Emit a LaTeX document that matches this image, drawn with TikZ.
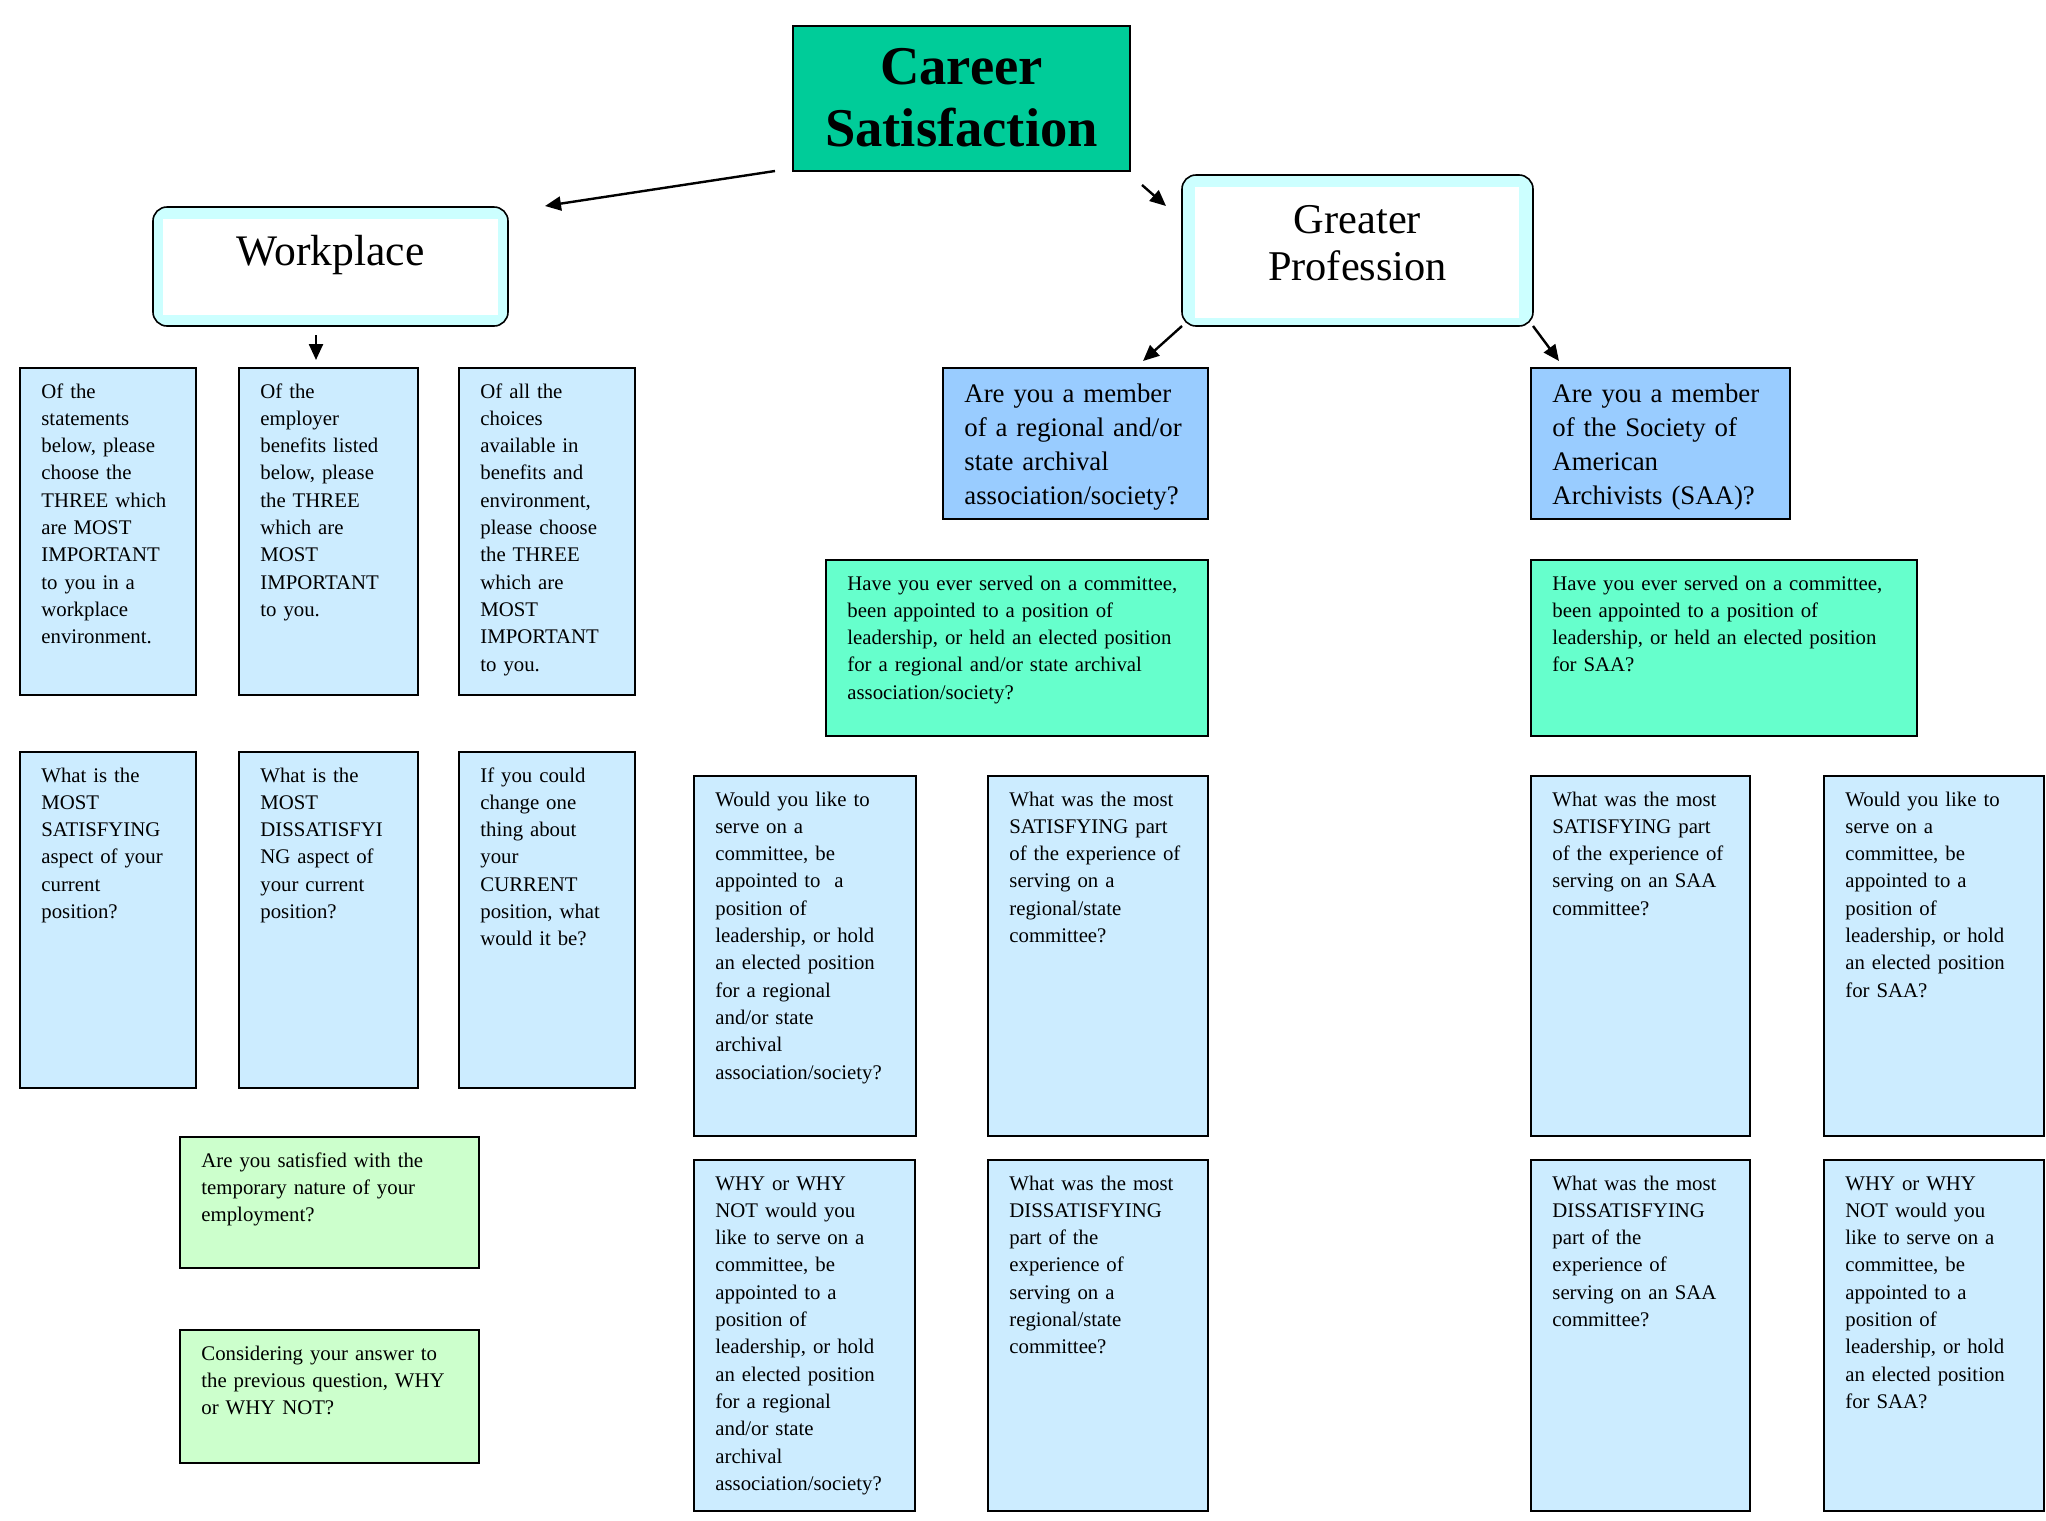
\documentclass[tikz,border=0pt]{standalone}
\usepackage{fontspec}
\setmainfont{Liberation Serif}
\usetikzlibrary{arrows.meta,calc}
\definecolor{titlegreen}{RGB}{0,204,153}
\definecolor{bandcyan}{RGB}{204,255,255}
\definecolor{qblue}{RGB}{204,236,255}
\definecolor{mblue}{RGB}{153,204,255}
\definecolor{tgreen}{RGB}{102,255,204}
\definecolor{lgreen}{RGB}{204,255,204}
\tikzset{
  qframe/.style={draw=black, line width=1pt, anchor=north west, inner sep=0pt, outer sep=0pt},
  qtext/.style={anchor=base west, inner sep=0pt, text width=400pt, align=left, font=\fontsize{10.4}{13.65}\selectfont},
  mtext/.style={anchor=base west, inner sep=0pt, text width=400pt, align=left, font=\fontsize{13.4}{17}\selectfont},
  rframe/.style={draw=black, line width=0.8pt, fill=bandcyan, rounded corners=7pt, anchor=north west, inner sep=0pt, outer sep=0pt},
  conn/.style={line width=1.2pt, -{Triangle[length=8pt,width=7pt]}},
}
\newcommand\qbox[7]{%
  \node[qframe,fill=#2,minimum width={(#5-#3)*0.5pt},minimum height={(#6-#4)*0.5pt}] (#1) at (#3,#4) {};
  \node[qtext] (#1-t) at ($(#1.north west)+(21,30)$) {#7};}
\begin{document}
\begin{tikzpicture}[x=0.5pt,y=-0.5pt]
\useasboundingbox (0,0) rectangle (2046,1521);
% title
\node[qframe,fill=titlegreen,minimum width={337*0.5pt},minimum height={145*0.5pt}] (title) at (793,26) {};
\node[font=\bfseries\fontsize{27.3}{31}\selectfont, align=center, inner sep=0pt] (title-t) at ($(title.center)+(0,-1)$) {Career\\Satisfaction};
% workplace
\node[rframe,minimum width={355*0.5pt},minimum height={119*0.5pt}] (wp) at (153,207) {};
\fill[white] ($(wp.north west)+(10,12)$) rectangle ($(wp.south east)+(-10,-11)$);
\node[font=\fontsize{21.8}{24}\selectfont, anchor=base, inner sep=0pt] (wp-t) at ($(wp.north)+(0,58)$) {Workplace};
% greater profession
\node[rframe,minimum width={351*0.5pt},minimum height={151*0.5pt}] (gp) at (1182,175) {};
\fill[white] ($(gp.north west)+(13,12)$) rectangle ($(gp.south east)+(-14,-8)$);
\node[font=\fontsize{21.2}{23.5}\selectfont, align=center, inner sep=0pt] (gp-t) at ($(gp.center)+(0,-7)$) {Greater\\Profession};
% left column boxes
\qbox{b1}{qblue}{20}{368}{196}{695}{Of the\\statements\\below, please\\choose the\\THREE which\\are MOST\\IMPORTANT\\to you in a\\workplace\\environment.}
\qbox{b2}{qblue}{239}{368}{418}{695}{Of the\\employer\\benefits listed\\below, please\\the THREE\\which are\\MOST\\IMPORTANT\\to you.}
\qbox{b3}{qblue}{459}{368}{635}{695}{Of all the\\choices\\available in\\benefits and\\environment,\\please choose\\the THREE\\which are\\MOST\\IMPORTANT\\to you.}
\qbox{b4}{qblue}{20}{752}{196}{1088}{What is the\\MOST\\SATISFYING\\aspect of your\\current\\position?}
\qbox{b5}{qblue}{239}{752}{418}{1088}{What is the\\MOST\\DISSATISFYI\\NG aspect of\\your current\\position?}
\qbox{b6}{qblue}{459}{752}{635}{1088}{If you could\\change one\\thing about\\your\\CURRENT\\position, what\\would it be?}
\qbox{g1}{lgreen}{180}{1137}{479}{1268}{Are you satisfied with the\\temporary nature of your\\employment?}
\qbox{g2}{lgreen}{180}{1330}{479}{1463}{Considering your answer to\\the previous question, WHY\\or WHY NOT?}
% member boxes
\node[qframe,fill=mblue,minimum width={265*0.5pt},minimum height={151*0.5pt}] (reg) at (943,368) {};
\node[mtext] (reg-t) at ($(reg.north west)+(21,34)$) {Are you a member\\of a regional and/or\\state archival\\association/society?};
\node[qframe,fill=mblue,minimum width={259*0.5pt},minimum height={151*0.5pt}] (saa) at (1531,368) {};
\node[mtext] (saa-t) at ($(saa.north west)+(21,34)$) {Are you a member\\of the Society of\\American\\Archivists (SAA)?};
% served boxes
\qbox{t1}{tgreen}{826}{560}{1208}{736}{Have you ever served on a committee,\\been appointed to a position of\\leadership, or held an elected position\\for a regional and/or state archival\\association/society?}
\qbox{t2}{tgreen}{1531}{560}{1917}{736}{Have you ever served on a committee,\\been appointed to a position of\\leadership, or held an elected position\\for SAA?}
% regional detail boxes
\qbox{m1}{qblue}{694}{776}{916}{1136}{Would you like to\\serve on a\\committee, be\\appointed to~ a\\position of\\leadership, or hold\\an elected position\\for a regional\\and/or state\\archival\\association/society?}
\qbox{m2}{qblue}{988}{776}{1208}{1136}{What was the most\\SATISFYING part\\of the experience of\\serving on a\\regional/state\\committee?}
\qbox{m3}{qblue}{694}{1160}{915}{1511}{WHY or WHY\\NOT would you\\like to serve on a\\committee, be\\appointed to a\\position of\\leadership, or hold\\an elected position\\for a regional\\and/or state\\archival\\association/society?}
\qbox{m4}{qblue}{988}{1160}{1208}{1511}{What was the most\\DISSATISFYING\\part of the\\experience of\\serving on a\\regional/state\\committee?}
% SAA detail boxes
\qbox{r1}{qblue}{1531}{776}{1750}{1136}{What was the most\\SATISFYING part\\of the experience of\\serving on an SAA\\committee?}
\qbox{r2}{qblue}{1824}{776}{2044}{1136}{Would you like to\\serve on a\\committee, be\\appointed to a\\position of\\leadership, or hold\\an elected position\\for SAA?}
\qbox{r3}{qblue}{1531}{1160}{1750}{1511}{What was the most\\DISSATISFYING\\part of the\\experience of\\serving on an SAA\\committee?}
\qbox{r4}{qblue}{1824}{1160}{2044}{1511}{WHY or WHY\\NOT would you\\like to serve on a\\committee, be\\appointed to a\\position of\\leadership, or hold\\an elected position\\for SAA?}
% connectors
\coordinate (a1s) at ($(title.south west)+(-18,0)$);
\coordinate (a1e) at ($(wp.north east)+(37,-1)$);
\coordinate (a2s) at ($(title.south east)+(12,14)$);
\coordinate (a2e) at ($(gp.north west)+(-16,31)$);
\coordinate (a3s) at ($(wp.south)+(-14.5,9)$);
\coordinate (a3e) at ($(b2.north)+(-12.5,-8)$);
\coordinate (a4e) at ($(reg.north east)+(-65,-7)$);
\coordinate (a5e) at ($(saa.north west)+(28,-7)$);
\draw[conn] (a1s) -- (a1e);
\draw[conn] (a2s) -- (a2e);
\draw[conn] (a3s) -- (a3e);
\draw[conn] (gp.south west) -- (a4e);
\draw[conn] (gp.south east) -- (a5e);
\end{tikzpicture}
\end{document}
